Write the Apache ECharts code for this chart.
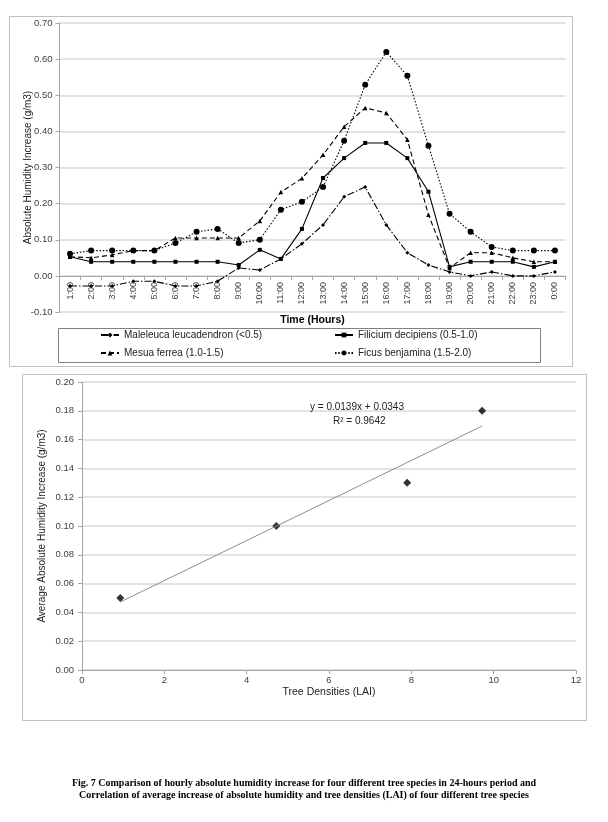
<!DOCTYPE html>
<html>
<head>
<meta charset="utf-8">
<script src="https://cdn.jsdelivr.net/npm/echarts@6/dist/echarts.min.js"></script>
<style>
html,body{margin:0;padding:0;background:#fff;}
#c{width:608px;height:822px;}
</style>
</head>
<body>
<div id="c"></div>
<script>
const hours = ['1:00','2:00','3:00','4:00','5:00','6:00','7:00','8:00','9:00','10:00','11:00','12:00','13:00','14:00','15:00','16:00','17:00','18:00','19:00','20:00','21:00','22:00','23:00','0:00'];
const maleleuca = [-0.028,-0.028,-0.028,-0.015,-0.015,-0.028,-0.028,-0.015,0.022,0.016,0.047,0.089,0.141,0.219,0.246,0.141,0.064,0.030,0.011,0.000,0.011,0.000,0.000,0.011];
const filicium = [0.053,0.039,0.039,0.039,0.039,0.039,0.039,0.039,0.030,0.072,0.047,0.130,0.271,0.326,0.368,0.368,0.326,0.233,0.025,0.039,0.039,0.039,0.025,0.039];
const mesua = [0.053,0.050,0.058,0.070,0.070,0.105,0.105,0.105,0.105,0.152,0.232,0.270,0.335,0.413,0.465,0.451,0.377,0.169,0.022,0.064,0.064,0.050,0.039,0.039];
const ficus = [0.061,0.070,0.070,0.070,0.070,0.091,0.122,0.130,0.091,0.100,0.183,0.205,0.246,0.374,0.529,0.620,0.554,0.360,0.172,0.122,0.080,0.070,0.070,0.070];
const seriesNames = ['Maleleuca leucadendron (<0.5)','Filicium decipiens (0.5-1.0)','Mesua ferrea (1.0-1.5)','Ficus benjamina (1.5-2.0)'];

const lai = [0.93, 4.72, 7.90, 9.72];
const avgIncrease = [0.05, 0.10, 0.13, 0.18];
const trendSlope = 0.0139;
const trendIntercept = 0.0343;
const trendText = ['y = 0.0139x + 0.0343', 'R\u00b2 = 0.9642'];
const caption = ['Fig. 7 Comparison of hourly absolute humidity increase for four different tree species in 24-hours period and',
                 'Correlation of average increase of absolute humidity and tree densities (LAI) of four different tree species'];

const font = 'Liberation Sans, Arial, sans-serif';
const labelColor = '#404040';
const gridColor = '#d9d9d9';

const topMin = -0.1, topMax = 0.7;
const topGridHeight = 289;
// move the category axis up onto the zero line
const zeroOffset = -topGridHeight * (0 - topMin) / (topMax - topMin);

const trendX = [Math.min(...lai), Math.max(...lai)];
const trendData = trendX.map(x => [x, trendSlope * x + trendIntercept]);

const chart = echarts.init(document.getElementById('c'), null, {renderer: 'canvas'});

function lineSeries(name, data, type, symbol, size) {
  return {
    name: name, type: 'line', xAxisIndex: 0, yAxisIndex: 0, data: data,
    symbol: symbol, symbolSize: size, showSymbol: true,
    lineStyle: {color: '#000', width: 1.1, type: type},
    itemStyle: {color: '#000'},
    animation: false
  };
}

chart.setOption({
  animation: false,
  textStyle: {fontFamily: font},
  grid: [
    {left: 59.5, right: 42.5, top: 23, height: topGridHeight, containLabel: false},
    {left: 82, right: 32, top: 382, height: 288, containLabel: false}
  ],
  xAxis: [
    {
      gridIndex: 0, type: 'category', data: hours, boundaryGap: true,
      position: 'bottom', offset: zeroOffset,
      axisLine: {onZero: false, lineStyle: {color: '#a6a6a6'}},
      axisTick: {show: true, length: 4, lineStyle: {color: '#a6a6a6'}},
      axisLabel: {rotate: 90, fontSize: 9, color: labelColor, margin: 6, interval: 0},
      name: 'Time (Hours)', nameLocation: 'middle', nameGap: 39, nameMoveOverlap: false,
      nameTextStyle: {fontWeight: 'bold', fontSize: 10.5, color: '#000'}
    },
    {
      gridIndex: 1, type: 'value', min: 0, max: 12, interval: 2,
      axisLine: {onZero: false, lineStyle: {color: '#a6a6a6'}},
      axisTick: {show: true, length: 4, lineStyle: {color: '#a6a6a6'}},
      splitLine: {show: false},
      axisLabel: {fontSize: 9.5, color: labelColor, margin: 5},
      name: 'Tree Densities (LAI)', nameLocation: 'middle', nameGap: 17,
      nameTextStyle: {fontSize: 10.5, color: '#222'}
    }
  ],
  yAxis: [
    {
      gridIndex: 0, type: 'value', min: topMin, max: topMax, interval: 0.1,
      axisLine: {show: true, lineStyle: {color: '#a6a6a6'}},
      axisTick: {show: true, length: 4, lineStyle: {color: '#a6a6a6'}},
      splitLine: {lineStyle: {color: gridColor, width: 1.5}},
      axisLabel: {fontSize: 9.5, color: labelColor, margin: 7, formatter: v => v.toFixed(2)},
      name: 'Absolute Humidity Increase (g/m3)', nameLocation: 'middle', nameGap: 26, nameMoveOverlap: false,
      nameTextStyle: {fontSize: 10, color: '#222'}
    },
    {
      gridIndex: 1, type: 'value', min: 0, max: 0.2, interval: 0.02,
      axisLine: {show: true, lineStyle: {color: '#a6a6a6'}},
      axisTick: {show: true, length: 4, lineStyle: {color: '#a6a6a6'}},
      splitLine: {lineStyle: {color: gridColor, width: 1.5}},
      axisLabel: {fontSize: 9.5, color: labelColor, margin: 8, formatter: v => v.toFixed(2)},
      name: 'Average Absolute Humidity Increase (g/m3)', nameLocation: 'middle', nameGap: 35, nameMoveOverlap: false,
      nameTextStyle: {fontSize: 10, color: '#222'}
    }
  ],
  legend: [
    {
      data: [seriesNames[0], seriesNames[2]], orient: 'vertical', left: 95, top: 325,
      itemWidth: 18, itemHeight: 6, itemGap: 8,
      textStyle: {fontSize: 10, color: '#222', fontFamily: font}
    },
    {
      data: [seriesNames[1], seriesNames[3]], orient: 'vertical', left: 329, top: 325,
      itemWidth: 18, itemHeight: 6, itemGap: 8,
      textStyle: {fontSize: 10, color: '#222', fontFamily: font}
    }
  ],
  series: [
    lineSeries(seriesNames[0], maleleuca, [7, 2, 1.5, 2], 'diamond', 4),
    lineSeries(seriesNames[1], filicium, 'solid', 'rect', 4),
    lineSeries(seriesNames[2], mesua, [5, 3], 'triangle', 4.5),
    lineSeries(seriesNames[3], ficus, [1.5, 1.8], 'circle', 6),
    {
      type: 'line', xAxisIndex: 1, yAxisIndex: 1, data: trendData,
      symbol: 'none', lineStyle: {color: '#8c8c8c', width: 1}, silent: true
    },
    {
      type: 'scatter', xAxisIndex: 1, yAxisIndex: 1,
      data: lai.map((x, i) => [x, avgIncrease[i]]),
      symbol: 'diamond', symbolSize: 8, itemStyle: {color: '#000'}
    }
  ],
  graphic: [
    {type: 'rect', shape: {x: 9.5, y: 16.5, width: 563, height: 350}, style: {fill: 'none', stroke: '#bfbfbf', lineWidth: 1}, silent: true, z: -1},
    {type: 'rect', shape: {x: 58.5, y: 328.5, width: 482, height: 34}, style: {fill: 'none', stroke: '#808080', lineWidth: 1}, silent: true, z: -1},
    {type: 'rect', shape: {x: 22.5, y: 374.5, width: 564, height: 346}, style: {fill: 'none', stroke: '#bfbfbf', lineWidth: 1}, silent: true, z: -1},
    {type: 'text', top: 402, left: 310, z: 10, style: {text: trendText[0], fill: '#222', font: '10px ' + font}},
    {type: 'text', top: 416, left: 333, z: 10, style: {text: trendText[1], fill: '#222', font: '10px ' + font}},
    {type: 'text', left: 'center', top: 778, style: {text: caption[0], fill: '#000', font: 'bold 10px "Liberation Serif", "Times New Roman", serif'}},
    {type: 'text', left: 'center', top: 790, style: {text: caption[1], fill: '#000', font: 'bold 10px "Liberation Serif", "Times New Roman", serif'}}
  ]
});
</script>
</body>
</html>
